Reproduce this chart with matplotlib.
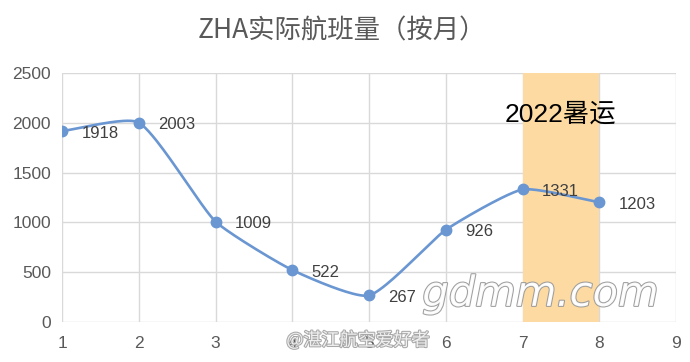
import numpy as np
import matplotlib.pyplot as plt
import matplotlib.patheffects as pe

months = [1, 2, 3, 4, 5, 6, 7, 8]
flights = [1918, 2003, 1009, 522, 267, 926, 1331, 1203]
summer_start, summer_end = 7, 8
summer_label = '2022暑运'
title = 'ZHA实际航班量（按月）'

plt.rcParams['font.family'] = ['Liberation Sans', 'Noto Sans CJK SC', 'DejaVu Sans']


def smooth(ax, xs, ys, f=0.17, n=40):
    # Excel-like smoothed line, built in display space so the bends look right
    pts = ax.transData.transform(np.column_stack([xs, ys]))
    k = len(pts)
    tang = np.zeros_like(pts)
    for i in range(k):
        a = pts[max(i - 1, 0)]
        b = pts[min(i + 1, k - 1)]
        d = b - a
        tang[i] = d / np.hypot(*d)
    t = np.linspace(0, 1, n)[:, None]
    out = []
    for i in range(k - 1):
        p0, p3 = pts[i], pts[i + 1]
        L = np.hypot(*(p3 - p0))
        c1 = p0 + tang[i] * L * f
        c2 = p3 - tang[i + 1] * L * f
        b = (1 - t) ** 3 * p0 + 3 * (1 - t) ** 2 * t * c1 + 3 * (1 - t) * t ** 2 * c2 + t ** 3 * p3
        out.append(b)
    out = np.vstack(out)
    data = ax.transData.inverted().transform(out)
    return data[:, 0], data[:, 1]


fig = plt.figure(figsize=(6.9, 3.62), dpi=100)
ax = fig.add_axes([0.0899, 0.1105, 0.8899, 0.6875])
ax.set_xlim(1, 9)
ax.set_ylim(0, 2500)

ax.axvspan(summer_start, summer_end, color='#fcdaa2', zorder=1, lw=0)

sx, sy = smooth(ax, months, flights)
ax.plot(sx, sy, color='#6a96d2', lw=1.9, zorder=3, solid_capstyle='round')
ax.plot(months, flights, 'o', color='#6a96d2', ms=7.5, zorder=4)

for m, v in zip(months, flights):
    ax.annotate(str(v), (m, v), xytext=(14, -1.5), textcoords='offset points',
                ha='left', va='center', fontsize=12, color='#404040', zorder=5)

ax.text(7.49, 2080, summer_label, ha='center', va='center', fontsize=19,
        color='black', family=['Liberation Sans', 'Noto Sans CJK SC'], zorder=5)

ax.set_xticks(range(1, 10))
ax.set_yticks(range(0, 2501, 500))
ax.grid(True, color='#d9d9d9', lw=1)
ax.set_axisbelow(True)
for s in ax.spines.values():
    s.set_visible(False)
ax.tick_params(length=0, labelsize=12.5, labelcolor='#595959', pad=8)
ax.tick_params(axis='x', pad=10)

fig.text(0.495, 0.915, title, ha='center', va='center', fontsize=19,
         color='#595959', family=['Noto Sans CJK SC'])

# watermarks
fig.text(0.612, 0.155, 'gdmm.com', fontsize=30, color='white', style='italic',
         family=['DejaVu Sans'], alpha=0.95,
         path_effects=[pe.withStroke(linewidth=1.5, foreground='#9a9a9a')], zorder=10)
fig.text(0.415, 0.045, '@湛江航空爱好者', fontsize=13, color='#f0f0f0',
         family=['Noto Sans CJK SC'],
         path_effects=[pe.withStroke(linewidth=1.5, foreground='#a8a8a8')], zorder=10)

fig.savefig('out.png', dpi=100)
